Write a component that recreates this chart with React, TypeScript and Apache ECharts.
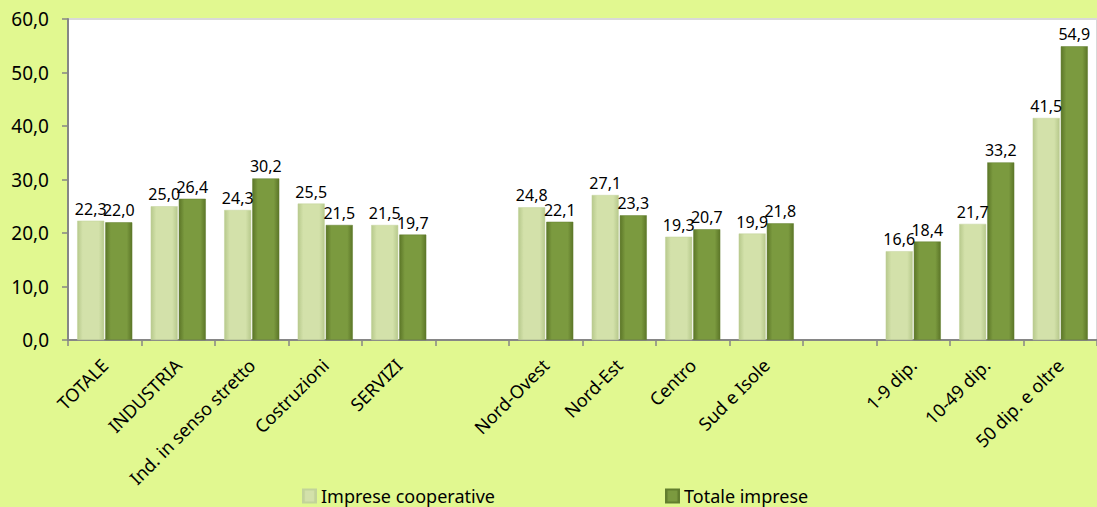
import React, { useEffect, useRef } from "react";
import * as echarts from "echarts";

const categories = [
  "TOTALE",
  "INDUSTRIA",
  "Ind. in senso stretto",
  "Costruzioni",
  "SERVIZI",
  "",
  "Nord-Ovest",
  "Nord-Est",
  "Centro",
  "Sud e Isole",
  "",
  "1-9 dip.",
  "10-49 dip.",
  "50 dip. e oltre",
];
const coopValues: (number | null)[] = [22.3, 25.0, 24.3, 25.5, 21.5, null, 24.8, 27.1, 19.3, 19.9, null, 16.6, 21.7, 41.5];
const totalValues: (number | null)[] = [22.0, 26.4, 30.2, 21.5, 19.7, null, 22.1, 23.3, 20.7, 21.8, null, 18.4, 33.2, 54.9];
const seriesNames = ["Imprese cooperative", "Totale imprese"];

const FONT = "'Noto Sans', 'DejaVu Sans', sans-serif";
const fmt = (v: number) => v.toFixed(1).replace(".", ",");

function grad(edge: string, mid: string) {
  return new echarts.graphic.LinearGradient(0, 0, 1, 0, [
    { offset: 0, color: edge },
    { offset: 0.2, color: mid },
    { offset: 0.8, color: mid },
    { offset: 1, color: edge },
  ]);
}

export default function App() {
  const ref = useRef<HTMLDivElement>(null);
  useEffect(() => {
    if (!ref.current) return;
    const chart = echarts.init(ref.current, undefined, { renderer: "svg" });
    const label = {
      show: true,
      position: "top" as const,
      distance: 4,
      color: "#000",
      fontFamily: FONT,
      fontSize: 16,
      formatter: (p: any) => fmt(p.value),
    };
    const legendText = { fontFamily: FONT, fontSize: 18, lineHeight: 18, color: "#000" };
    chart.setOption({
      animation: false,
      backgroundColor: "#e1f890",
      textStyle: { fontFamily: FONT },
      grid: {
        left: 68,
        top: 19,
        width: 1036,
        height: 321,
        show: true,
        backgroundColor: "#ffffff",
        borderColor: "#d9d9d9",
        borderWidth: 2,
      },
      legend: [
        {
          data: [seriesNames[0]],
          left: 297,
          top: 482,
          padding: 5,
          itemWidth: 13,
          itemHeight: 13,
          icon: "rect",
          textStyle: legendText,
        },
        {
          data: [seriesNames[1]],
          left: 660,
          top: 482,
          padding: 5,
          itemWidth: 13,
          itemHeight: 13,
          icon: "rect",
          textStyle: legendText,
        },
      ],
      xAxis: {
        type: "category",
        data: categories,
        axisLine: { lineStyle: { color: "#868686", width: 2 } },
        axisTick: { show: true, length: 6, lineStyle: { color: "#868686", width: 1.5 } },
        axisLabel: {
          interval: 0,
          rotate: 45,
          margin: 22,
          fontFamily: FONT,
          fontSize: 18,
          color: "#000",
        },
      },
      yAxis: {
        type: "value",
        min: 0,
        max: 60,
        interval: 10,
        axisLine: { show: true, lineStyle: { color: "#868686", width: 2 } },
        axisTick: { show: true, length: 6, lineStyle: { color: "#868686", width: 1.5 } },
        splitLine: { show: false },
        axisLabel: {
          margin: 19,
          fontFamily: FONT,
          fontSize: 19,
          color: "#000",
          formatter: (v: number) => fmt(v),
        },
      },
      series: [
        {
          name: seriesNames[0],
          type: "bar",
          data: coopValues,
          barWidth: 27,
          barGap: "4%",
          itemStyle: { color: grad("#b7c98c", "#d3e1aa"), borderColor: "#c2d39a", borderWidth: 0.5 },
          label,
        },
        {
          name: seriesNames[1],
          type: "bar",
          data: totalValues,
          barWidth: 27,
          itemStyle: { color: grad("#5c7628", "#7b9a3f"), borderColor: "#627e2e", borderWidth: 0.5 },
          label,
        },
      ],
    });
    return () => chart.dispose();
  }, []);
  return (
    <div
      ref={ref}
      style={{ position: "fixed", left: 0, top: 0, width: 1097, height: 507 }}
    />
  );
}
